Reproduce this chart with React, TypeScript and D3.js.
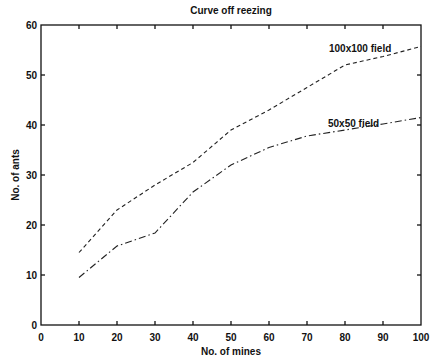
import React from "react";
import * as d3 from "d3";

const mines = [10, 20, 30, 40, 50, 60, 70, 80, 90, 100];
const field100 = [14.5, 23, 28, 32.5, 39, 43, 47.5, 52, 53.7, 55.7];
const field50 = [9.5, 15.8, 18.4, 26.6, 32, 35.5, 37.8, 39, 40.2, 41.5];
const xTicks = [0, 10, 20, 30, 40, 50, 60, 70, 80, 90, 100];
const yTicks = [0, 10, 20, 30, 40, 50, 60];

const W = 430, H = 358;
const L = 41, R = 421, T = 25, B = 325;

export default function App() {
  const x = d3.scaleLinear().domain([0, 100]).range([L, R]);
  const y = d3.scaleLinear().domain([0, 60]).range([B, T]);
  const line = d3.line<number>().x((_, i) => x(mines[i])).y((d) => y(d));
  const font = "Liberation Sans, Arial, sans-serif";
  const tl = 4;
  return (
    <svg width={W} height={H} style={{ position: "absolute", left: 0, top: 0, background: "#fff" }}>
      <g fontFamily={font} fontWeight="bold" fontSize={10} fill="#111">
        <text x={(L + R) / 2 + 0} y={14} textAnchor="middle">Curve off reezing</text>
        <text x={(L + R) / 2} y={355} textAnchor="middle">No. of mines</text>
        <text transform={`translate(19,${(T + B) / 2}) rotate(-90)`} textAnchor="middle">No. of ants</text>
        {xTicks.map((t) => (
          <text key={"xt" + t} x={x(t)} y={341} textAnchor="middle">{t}</text>
        ))}
        {yTicks.map((t) => (
          <text key={"yt" + t} x={L - 4} y={y(t) + 3.5} textAnchor="end">{t}</text>
        ))}
        <text x={329} y={52}>100x100 field</text>
        <text x={328} y={127}>50x50 field</text>
      </g>
      <g stroke="#111" strokeWidth={1.3} fill="none">
        <rect x={L} y={T} width={R - L} height={B - T} />
        {xTicks.slice(1, -1).map((t) => (
          <g key={"xk" + t}>
            <line x1={x(t)} x2={x(t)} y1={B} y2={B - tl} />
            <line x1={x(t)} x2={x(t)} y1={T} y2={T + tl} />
          </g>
        ))}
        {yTicks.slice(1, -1).map((t) => (
          <g key={"yk" + t}>
            <line x1={L} x2={L + tl} y1={y(t)} y2={y(t)} />
            <line x1={R} x2={R - tl} y1={y(t)} y2={y(t)} />
          </g>
        ))}
      </g>
      <path d={line(field100) || ""} fill="none" stroke="#222" strokeWidth={1.1} strokeDasharray="4,3" />
      <path d={line(field50) || ""} fill="none" stroke="#222" strokeWidth={1.1} strokeDasharray="7,3,1.5,3" />
    </svg>
  );
}
